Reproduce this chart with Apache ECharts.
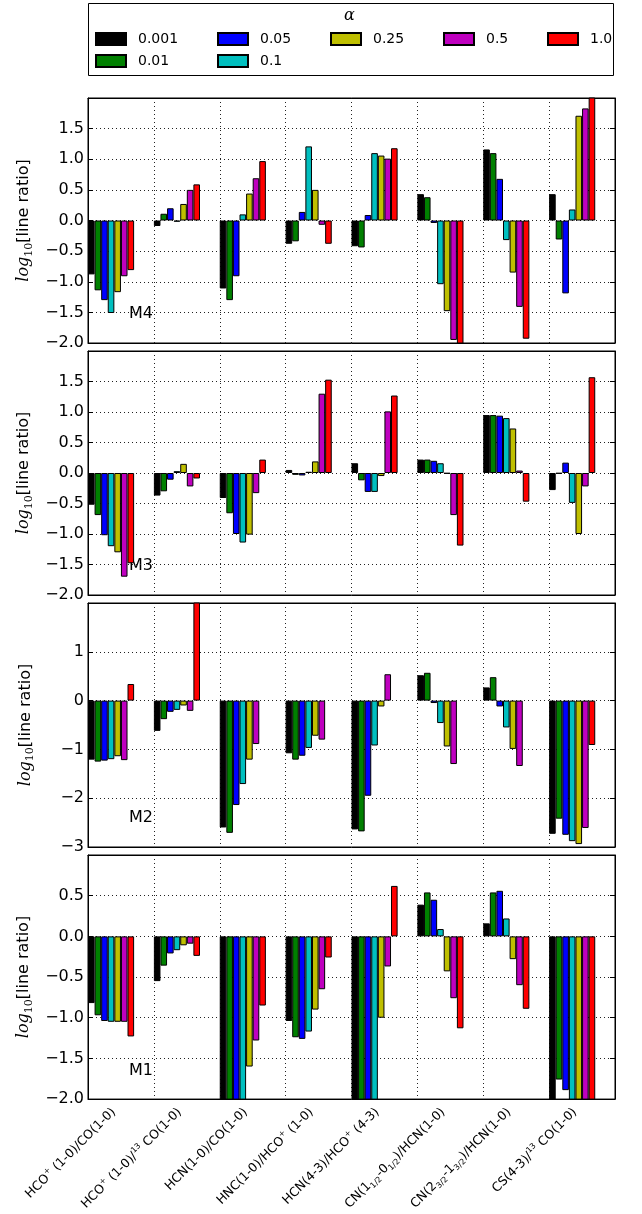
<!DOCTYPE html>
<html>
<head>
<meta charset="utf-8">
<script src="https://cdn.jsdelivr.net/npm/echarts@6/dist/echarts.min.js"></script>
<style>
  html, body { margin: 0; padding: 0; background: #fff; }
  #chart { width: 642px; height: 1214px; }
</style>
</head>
<body>
<div id="chart"></div>
<script>
// 類別 (x 軸)
const categories = [
  "HCO+(1-0)/CO(1-0)", "HCO+(1-0)/13CO(1-0)", "HCN(1-0)/CO(1-0)", "HNC(1-0)/HCO+(1-0)",
  "HCN(4-3)/HCO+(4-3)", "CN(1_1/2-0_1/2)/HCN(1-0)", "CN(2_3/2-1_3/2)/HCN(1-0)", "CS(4-3)/13CO(1-0)"
];
// 刻度標籤 (rich text, 上下標)
const tickLabels = [
  "{t|HCO}{sup|+}{t| (1-0)/CO(1-0)}",
  "{t|HCO}{sup|+}{t| (1-0)/}{sup|13}{t| CO(1-0)}",
  "{t|HCN(1-0)/CO(1-0)}",
  "{t|HNC(1-0)/HCO}{sup|+}{t| (1-0)}",
  "{t|HCN(4-3)/HCO}{sup|+}{t| (4-3)}",
  "{t|CN(1}{sub|1/2}{t|-0}{sub|1/2}{t|)/HCN(1-0)}",
  "{t|CN(2}{sub|3/2}{t|-1}{sub|3/2}{t|)/HCN(1-0)}",
  "{t|CS(4-3)/}{sup|13}{t| CO(1-0)}"
];
const alphas = ["0.001", "0.01", "0.05", "0.1", "0.25", "0.5", "1.0"];
const colors = ["#000000", "#008000", "#0000ff", "#00bfbf", "#bfbf00", "#bf00bf", "#ff0000"];

// 每個面板: 每一列是一個 alpha
const m4Values = [
  [-0.88, -0.09, -1.11, -0.38, -0.42, 0.43, 1.16, 0.43],
  [-1.14, 0.11, -1.30, -0.34, -0.44, 0.38, 1.10, -0.31],
  [-1.30, 0.20, -0.91, 0.14, 0.09, -0.04, 0.68, -1.19],
  [-1.51, -0.02, 0.10, 1.21, 1.10, -1.04, -0.32, 0.18],
  [-1.17, 0.27, 0.44, 0.50, 1.06, -1.48, -0.85, 1.71],
  [-0.91, 0.50, 0.69, -0.07, 1.01, -1.95, -1.41, 1.83],
  [-0.81, 0.59, 0.97, -0.38, 1.18, -2.10, -1.93, 2.10]
];
const m3Values = [
  [-0.52, -0.37, -0.41, 0.05, 0.16, 0.22, 0.95, -0.28],
  [-0.69, -0.30, -0.66, -0.03, -0.12, 0.22, 0.95, -0.01],
  [-1.02, -0.11, -1.00, -0.04, -0.31, 0.20, 0.94, 0.17],
  [-1.20, 0.03, -1.14, 0.02, -0.31, 0.16, 0.90, -0.49],
  [-1.30, 0.15, -1.01, 0.19, -0.05, -0.01, 0.73, -1.00],
  [-1.70, -0.22, -0.33, 1.30, 1.01, -0.69, 0.04, -0.22],
  [-1.48, -0.09, 0.22, 1.53, 1.27, -1.19, -0.47, 1.57]
];
const m2Values = [
  [-1.21, -0.62, -2.60, -1.08, -2.64, 0.52, 0.27, -2.73],
  [-1.25, -0.38, -2.71, -1.21, -2.68, 0.57, 0.48, -2.42],
  [-1.23, -0.23, -2.14, -1.13, -1.95, -0.05, -0.12, -2.75],
  [-1.20, -0.19, -1.71, -0.97, -0.92, -0.46, -0.55, -2.88],
  [-1.14, -0.10, -1.21, -0.72, -0.12, -0.94, -0.99, -2.94],
  [-1.22, -0.21, -0.89, -0.80, 0.54, -1.30, -1.34, -2.61],
  [0.34, 2.10, null, null, null, null, null, -0.91]
];
const m1Values = [
  [-0.82, -0.55, -2.10, -1.04, -2.10, 0.39, 0.16, -2.10],
  [-0.97, -0.36, -2.10, -1.24, -2.10, 0.54, 0.54, -1.76],
  [-1.04, -0.21, -2.10, -1.26, -2.10, 0.45, 0.56, -1.89],
  [-1.05, -0.17, -2.10, -1.17, -2.10, 0.09, 0.22, -2.10],
  [-1.05, -0.11, -1.60, -0.90, -1.00, -0.43, -0.28, -2.10],
  [-1.05, -0.09, -1.28, -0.65, -0.37, -0.76, -0.60, -2.10],
  [-1.23, -0.24, -0.85, -0.26, 0.62, -1.13, -0.89, -2.10]
];

const panels = [
  { label: "M4", values: m4Values, min: -2, max: 2, interval: 0.5, dec: 1, top: 98, height: 245 },
  { label: "M3", values: m3Values, min: -2, max: 2, interval: 0.5, dec: 1, top: 351, height: 244 },
  { label: "M2", values: m2Values, min: -3, max: 2, interval: 1, dec: 0, top: 603, height: 244 },
  { label: "M1", values: m1Values, min: -2, max: 1, interval: 0.5, dec: 1, top: 855, height: 245 }
];

const FONT = "DejaVu Sans";
const chart = echarts.init(document.getElementById("chart"));

const grid = [], xAxis = [], yAxis = [], series = [], graphic = [];

panels.forEach((p, i) => {
  const last = i === panels.length - 1;
  grid.push({
    left: 88, right: 27, top: p.top, height: p.height,
    show: true, borderColor: "#000", borderWidth: 1, backgroundColor: "#fff"
  });
  // 下方 x 軸
  xAxis.push({
    type: "category", gridIndex: i, data: categories, position: "bottom",
    axisLine: { onZero: false, lineStyle: { color: "#000" } },
    axisTick: { inside: true, length: 4, interval: 0, lineStyle: { color: "#000" } },
    splitLine: { show: true, interval: 0, lineStyle: { color: "#222", type: [1, 3], width: 1 } },
    axisLabel: {
      show: last, interval: 0, rotate: 45, margin: 4, padding: [0, 10, 0, 0],
      formatter: (v, idx) => tickLabels[idx],
      rich: {
        t: { fontFamily: FONT, fontSize: 12.5, color: "#000", lineHeight: 16, verticalAlign: "middle" },
        sup: { fontFamily: FONT, fontSize: 8, color: "#000", lineHeight: 16, verticalAlign: "top" },
        sub: { fontFamily: FONT, fontSize: 8, color: "#000", lineHeight: 16, verticalAlign: "bottom" }
      }
    }
  });
  // 上方 x 軸 (只畫刻度)
  xAxis.push({
    type: "category", gridIndex: i, data: categories, position: "top",
    axisLine: { onZero: false, lineStyle: { color: "#000" } },
    axisTick: { inside: true, length: 4, interval: 0, lineStyle: { color: "#000" } },
    axisLabel: { show: false }, splitLine: { show: false }
  });
  yAxis.push({
    type: "value", gridIndex: i, min: p.min, max: p.max, interval: p.interval,
    position: "left",
    name: "{i|log}{s|10}{n|[line ratio]}",
    nameLocation: "middle", nameRotate: 90, nameGap: 52,
    nameTextStyle: {
      rich: {
        i: { fontFamily: "DejaVu Serif", fontStyle: "italic", fontSize: 16, color: "#000", lineHeight: 20, verticalAlign: "middle" },
        s: { fontFamily: "DejaVu Serif", fontSize: 11, color: "#000", lineHeight: 20, verticalAlign: "bottom" },
        n: { fontFamily: FONT, fontSize: 16, color: "#000", lineHeight: 20, verticalAlign: "middle" }
      }
    },
    axisLine: { show: true, lineStyle: { color: "#000" } },
    axisTick: { show: true, inside: true, length: 5, lineStyle: { color: "#000" } },
    splitLine: { show: true, lineStyle: { color: "#222", type: [1, 3], width: 1 } },
    axisLabel: {
      fontFamily: FONT, fontSize: 16, color: "#000", margin: 4, showMaxLabel: false,
      formatter: v => v.toFixed(p.dec).replace("-", "\u2212")
    }
  });
  yAxis.push({
    type: "value", gridIndex: i, min: p.min, max: p.max, interval: p.interval,
    position: "right",
    axisLine: { show: true, lineStyle: { color: "#000" } },
    axisTick: { show: true, inside: true, length: 5, lineStyle: { color: "#000" } },
    splitLine: { show: false }, axisLabel: { show: false }
  });

  p.values.forEach((row, j) => {
    series.push({
      type: "bar", name: alphas[j], xAxisIndex: 2 * i, yAxisIndex: 2 * i,
      data: row, barGap: 0, barCategoryGap: 0, clip: true,
      itemStyle: { color: colors[j], borderColor: "#000", borderWidth: 1 }
    });
  });
  // 佔位 (讓每組長條靠左, 佔 0.7 的寬度)
  for (let k = 0; k < 3; k++) {
    series.push({
      type: "bar", name: "_pad" + k, xAxisIndex: 2 * i, yAxisIndex: 2 * i,
      data: categories.map(() => null), barGap: 0, barCategoryGap: 0
    });
  }

  graphic.push({
    type: "text", left: 129, top: p.top + p.height - 37,
    style: { text: p.label, font: "16px " + FONT, fill: "#000" }
  });
});

// 圖例: 兩列, 依欄排列
const legendPos = [
  [95, 32], [95, 54], [217, 32], [217, 54], [330, 32], [443, 32], [547, 32]
];
const legend = alphas.map((a, j) => ({
  data: [a], left: legendPos[j][0], top: legendPos[j][1], padding: 0,
  itemWidth: 30, itemHeight: 12, icon: "rect", selectedMode: false,
  textStyle: { fontFamily: FONT, fontSize: 14, color: "#000", padding: [0, 0, 0, 7] }
}));

graphic.push({
  type: "rect", shape: { x: 88.5, y: 3.5, width: 525, height: 72 },
  style: { fill: "none", stroke: "#000", lineWidth: 1 }
});
graphic.push({
  type: "text", left: 344, top: 8,
  style: { text: "\u03b1", font: "italic 16px DejaVu Serif", fill: "#000" }
});

chart.setOption({
  animation: false,
  backgroundColor: "#fff",
  legend: legend,
  grid: grid,
  xAxis: xAxis,
  yAxis: yAxis,
  series: series,
  graphic: graphic
});
</script>
</body>
</html>
